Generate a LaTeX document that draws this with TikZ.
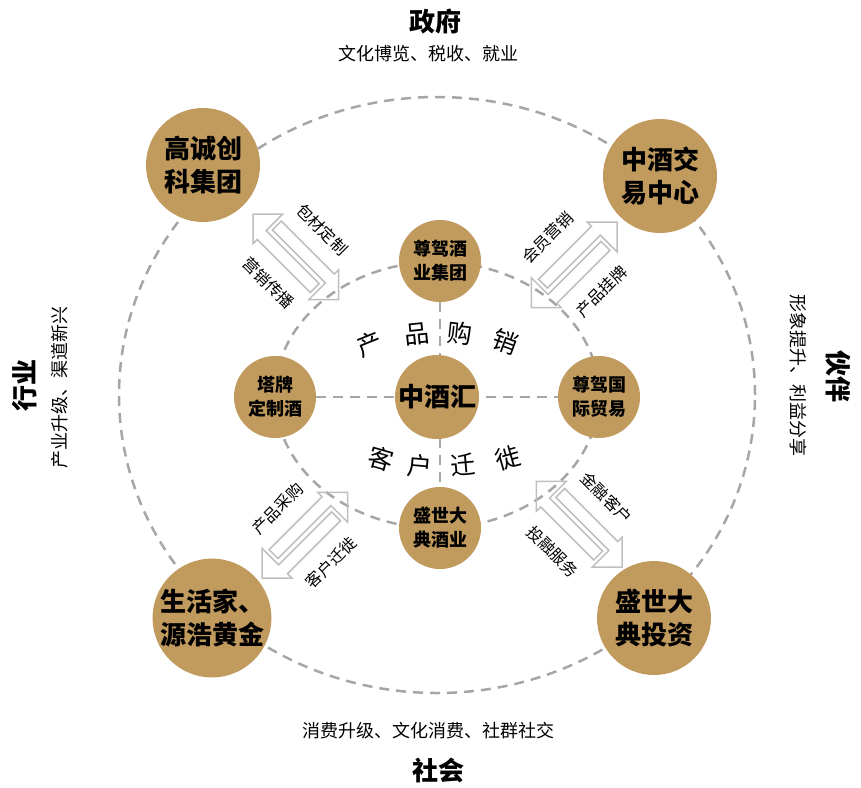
\documentclass[tikz,border=0pt]{standalone}
\usepackage{fontspec}
\setmainfont{Noto Sans CJK SC}
\usetikzlibrary{backgrounds}
\definecolor{gold}{RGB}{193,154,94}
\definecolor{ringgray}{RGB}{166,166,166}
\definecolor{arrgray}{RGB}{191,191,191}
\newcommand\arrpair[5]{%
\begin{scope}[shift={#1}, rotate=#2]
 \draw[arrowline] (0,0) -- (21,-21) -- (21,2.5) -- (96,2.5) -- (96,15) -- (21,15) -- (21,21) -- cycle;
 \draw[arrowline] (121,0) -- (100,21) -- (100,-2.5) -- (25,-2.5) -- (25,-15) -- (100,-15) -- (100,-21) -- cycle;
 \node[lbl, rotate=#5] (la#2) at (60,38) {#3};
 \node[lbl, rotate=#5] (lb#2) at (60,-38) {#4};
\end{scope}}
\begin{document}
\begin{tikzpicture}[x=1pt,y=-1pt,
  outer/.style={circle,fill=gold,minimum size=114pt,inner sep=0pt,align=center,font=\fontsize{26}{33}\selectfont\bfseries},
  inner/.style={circle,fill=gold,minimum size=82pt,inner sep=0pt,align=center,font=\fontsize{18}{24}\selectfont\bfseries},
  ringline/.style={draw=ringgray,line width=2.5pt,dash pattern=on 10pt off 7pt},
  arrowline/.style={draw=arrgray,line width=1.5pt,line join=miter},
  lbl/.style={font=\fontsize{16}{16}\selectfont,inner sep=0pt},
  arctext/.style={font=\fontsize{25}{25}\selectfont,inner sep=0pt},
  big/.style={font=\fontsize{26}{26}\selectfont\bfseries,inner sep=0pt},
  sub/.style={font=\fontsize{18}{18}\selectfont,inner sep=0pt}]
\useasboundingbox (0,0) rectangle (861,787);

% outer nodes
\node[outer] (gc) at (203,165) {高诚创\\科集团};
\node[outer] (jy) at (660,176) {中酒交\\易中心};
\node[outer] (sh) at (212,618) {生活家、\\源浩黄金};
\node[outer] (tz) at (654,618) {盛世大\\典投资};

% inner nodes
\node[inner] (zj) at (440,261) {尊驾酒\\业集团};
\node[inner] (tp) at (275,397) {塔牌\\定制酒};
\node[inner] (gj) at (599,397) {尊驾国\\际贸易};
\node[inner] (ss) at (440,528) {盛世大\\典酒业};
\node[inner,minimum size=84pt,font=\fontsize{26}{26}\selectfont\bfseries] (hub) at (437,397) {中酒汇};

\begin{scope}[on background layer]
  \draw[ringline] (437,395) ellipse [x radius=318pt, y radius=298pt];
  \draw[ringline] (437,395) ellipse [x radius=162pt, y radius=133pt];
  \draw[ringline] (tp) -- (gj);
  \draw[ringline] (zj) -- (ss);
\end{scope}

% arrow pairs
\arrpair{(253,214)}{-45}{营销传播}{包材定制}{-45}
\arrpair{(617,222)}{-135}{会员营销}{产品挂牌}{45}
\arrpair{(262,578)}{45}{客户迁徙}{产品采购}{45}
\arrpair{(622,567)}{135}{金融客户}{投融服务}{-45}

% arc texts
\node[arctext, rotate=22] (a1) at (370,344) {产};
\node[arctext, rotate=6] (a2) at (417,334) {品};
\node[arctext, rotate=-6] (a3) at (460,333) {购};
\node[arctext, rotate=-20] (a4) at (505,342) {销};
\node[arctext, rotate=-16] (b1) at (381,459) {客};
\node[arctext, rotate=-5] (b2) at (420,466) {户};
\node[arctext, rotate=5] (b3) at (463,465) {迁};
\node[arctext, rotate=16] (b4) at (508,458) {徙};

% side labels
\node[big] (gov) at (435,22) {政府};
\node[sub] (govs) at (428,54) {文化博览、税收、就业};
\node[big] (soc) at (438,771) {社会};
\node[sub] (socs) at (428,731) {消费升级、文化消费、社群社交};
\node[big, rotate=90] (ind) at (25,385) {行业};
\node[sub, rotate=90] (inds) at (60,387) {产业升级、渠道新兴};
\node[big, rotate=-90] (par) at (838,376) {伙伴};
\node[sub, rotate=-90] (pars) at (798,375) {形象提升、利益分享};
\end{tikzpicture}
\end{document}
